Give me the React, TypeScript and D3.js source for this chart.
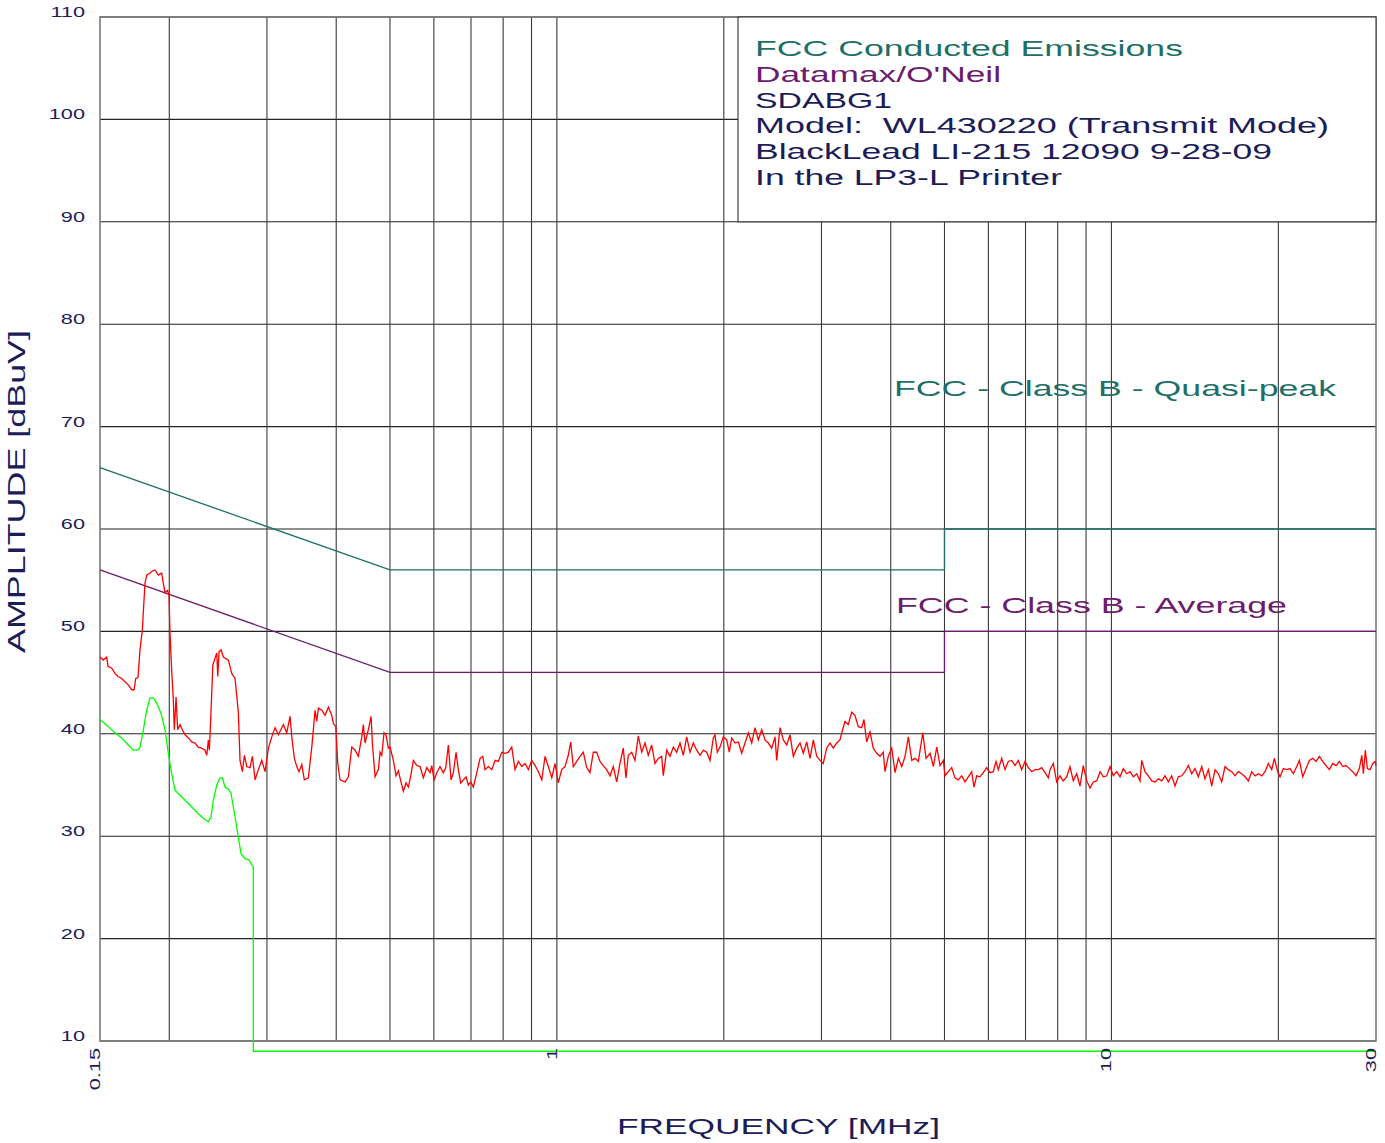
import * as d3 from 'd3';
import React from 'react';

// --- data ---
const gridFreqs = [0.2, 0.3, 0.4, 0.5, 0.6, 0.7, 0.8, 0.9, 1, 2, 3, 4, 5, 6, 7, 8, 9, 10, 20];
const ampTicks = [10, 20, 30, 40, 50, 60, 70, 80, 90, 100, 110];
const freqLabelValues = [0.15, 1, 10, 30];
const freqLabelText = ['0.15', '1', '10', '30'];

const infoLines = [
  'FCC Conducted Emissions',
  "Datamax/O'Neil",
  'SDABG1',
  'Model:  WL430220 (Transmit Mode)',
  'BlackLead LI-215 12090 9-28-09',
  'In the LP3-L Printer',
];

// FCC class B limits [MHz, dBuV]
const quasiPeakLimit: [number, number][] = [
  [0.15, 66], [0.5, 56], [5, 56], [5, 60], [30, 60],
];
const averageLimit: [number, number][] = [
  [0.15, 56], [0.5, 46], [5, 46], [5, 50], [30, 50],
];

// peak scan (red)
const peakScan: [number, number][] = [
  [0.150, 47.5], [0.152, 47.2], [0.1542, 47.5], [0.1551, 46.6], [0.1575, 46.4], [0.1596, 45.9],
  [0.1616, 45.6], [0.1641, 45.4], [0.1685, 44.8], [0.1711, 44.3], [0.1728, 44.3], [0.174, 45.4],
  [0.1756, 45.5], [0.1771, 48.2], [0.1788, 50.1], [0.1808, 54.7], [0.1821, 55.5], [0.1846, 55.7],
  [0.1864, 55.9], [0.1885, 56.0], [0.1911, 55.5], [0.1938, 55.7], [0.1951, 54.7], [0.1965, 53.8],
  [0.1987, 54.0], [0.1998, 53.4], [0.2006, 49.8], [0.202, 46.2], [0.2034, 43.3], [0.2042, 40.4],
  [0.2057, 43.6], [0.2071, 40.4], [0.2091, 40.9], [0.2111, 40.4], [0.2135, 39.9], [0.2165, 39.6],
  [0.2195, 39.2], [0.2226, 39.1], [0.2256, 38.7], [0.2288, 38.6], [0.232, 38.4], [0.2337, 37.9],
  [0.2352, 39.4], [0.2362, 38.4], [0.2379, 42.3], [0.2396, 46.7], [0.2436, 47.9], [0.2446, 45.6],
  [0.2459, 48.0], [0.248, 48.2], [0.2503, 47.5], [0.2556, 47.2], [0.2592, 45.9], [0.2628, 45.4],
  [0.2664, 42.1], [0.2683, 37.4], [0.2709, 36.3], [0.2732, 37.9], [0.2759, 36.8], [0.2797, 36.7],
  [0.2824, 37.8], [0.2856, 35.5], [0.2895, 36.5], [0.2936, 37.4], [0.2977, 36.3], [0.3018, 38.6],
  [0.3061, 39.7], [0.3103, 40.6], [0.3146, 39.9], [0.3212, 40.9], [0.3257, 40.1], [0.3302, 41.7],
  [0.3326, 39.7], [0.3362, 37.6], [0.3396, 36.8], [0.3428, 36.3], [0.3467, 37.0], [0.3504, 35.5],
  [0.3563, 35.7], [0.3614, 38.7], [0.3664, 42.3], [0.369, 41.2], [0.3714, 42.5], [0.3767, 42.3],
  [0.3819, 41.8], [0.3872, 42.6], [0.3927, 41.8], [0.3953, 41.0], [0.3993, 40.7], [0.4026, 37.1],
  [0.4064, 35.5], [0.415, 35.3], [0.4207, 35.8], [0.4267, 38.7], [0.4326, 38.4], [0.4385, 37.8],
  [0.4448, 39.7], [0.4477, 40.9], [0.4509, 39.1], [0.4571, 40.4], [0.4623, 41.7], [0.4648, 39.1],
  [0.47, 35.8], [0.4765, 36.5], [0.4799, 38.2], [0.4833, 37.9], [0.4879, 40.1], [0.4919, 39.9],
  [0.4967, 38.6], [0.5002, 38.7], [0.5071, 37.4], [0.5128, 35.9], [0.5177, 36.4], [0.5229, 35.4],
  [0.5286, 34.4], [0.5346, 35.2], [0.5397, 34.8], [0.5451, 35.9], [0.551, 37.4], [0.5589, 36.9],
  [0.5666, 36.8], [0.5744, 35.7], [0.5826, 36.7], [0.5906, 36.2], [0.5948, 36.9], [0.6005, 35.5],
  [0.6073, 36.2], [0.6156, 36.8], [0.6241, 36.2], [0.6304, 36.7], [0.6372, 38.9], [0.6444, 35.5],
  [0.6506, 36.2], [0.6579, 38.2], [0.6642, 36.5], [0.6709, 35.2], [0.6782, 35.5], [0.6858, 35.8],
  [0.6924, 35.0], [0.6993, 35.3], [0.7069, 34.8], [0.717, 36.2], [0.7269, 37.6], [0.7351, 37.8],
  [0.7421, 36.5], [0.7524, 36.8], [0.7631, 36.5], [0.7736, 37.4], [0.7843, 37.3], [0.7954, 38.2],
  [0.8064, 38.1], [0.8175, 38.2], [0.8291, 38.7], [0.8406, 36.5], [0.8522, 37.3], [0.8643, 36.8],
  [0.8762, 37.1], [0.8883, 36.5], [0.9009, 37.4], [0.9134, 36.9], [0.926, 36.3], [0.9392, 35.5],
  [0.9521, 37.8], [0.9652, 36.8], [0.979, 35.7], [0.9925, 37.1], [1.0058, 35.2], [1.0201, 36.5],
  [1.0342, 36.8], [1.0485, 37.9], [1.059, 39.2], [1.0705, 36.8], [1.0857, 37.3], [1.1007, 37.8],
  [1.1159, 38.2], [1.1317, 36.7], [1.1473, 36.2], [1.1632, 38.2], [1.1797, 38.2], [1.196, 37.3],
  [1.2125, 36.9], [1.2297, 36.5], [1.2467, 35.9], [1.2639, 36.8], [1.2819, 35.3], [1.2996, 37.1],
  [1.3175, 38.6], [1.3323, 35.7], [1.3451, 37.9], [1.3643, 38.2], [1.3831, 37.4], [1.4022, 39.8],
  [1.4221, 38.2], [1.4418, 39.1], [1.4616, 37.9], [1.4824, 38.9], [1.5029, 37.1], [1.5236, 37.6],
  [1.5452, 37.8], [1.5556, 35.9], [1.5777, 38.4], [1.5994, 37.8], [1.6215, 38.7], [1.6445, 38.2],
  [1.6673, 39.1], [1.6903, 37.9], [1.7143, 39.7], [1.738, 38.2], [1.762, 39.1], [1.787, 38.4],
  [1.8117, 37.9], [1.8367, 38.4], [1.8628, 38.2], [1.8885, 37.4], [1.9146, 39.6], [1.9281, 39.9],
  [1.9466, 38.2], [1.9686, 38.7], [1.9958, 39.7], [2.0242, 39.4], [2.0462, 38.2], [2.0667, 39.6],
  [2.0952, 39.1], [2.1241, 39.2], [2.1543, 38.1], [2.184, 39.1], [2.2142, 40.1], [2.2457, 39.1],
  [2.2767, 40.6], [2.3081, 39.4], [2.3409, 40.4], [2.3732, 39.4], [2.4059, 39.1], [2.4401, 38.6],
  [2.4738, 39.7], [2.4913, 37.4], [2.5257, 40.6], [2.5606, 39.4], [2.597, 38.9], [2.6328, 39.9],
  [2.6691, 37.8], [2.7071, 38.6], [2.7444, 39.1], [2.7823, 38.1], [2.8219, 39.2], [2.8608, 37.6],
  [2.9003, 39.4], [2.9415, 37.8], [2.9821, 37.4], [3.0225, 37.1], [3.0655, 38.6], [3.1078, 39.1],
  [3.1507, 38.6], [3.1955, 39.1], [3.2396, 39.4], [3.2761, 40.4], [3.3075, 41.2], [3.3532, 40.9],
  [3.4008, 42.1], [3.4478, 41.8], [3.4953, 40.7], [3.545, 40.6], [3.5791, 41.4], [3.6194, 39.2],
  [3.6694, 40.2], [3.72, 38.6], [3.7729, 38.1], [3.8249, 37.8], [3.8777, 38.2], [3.9052, 36.3],
  [3.9591, 37.8], [4.0166, 38.6], [4.0721, 36.2], [4.1282, 37.6], [4.187, 36.8], [4.2447, 37.8],
  [4.3033, 39.7], [4.3645, 37.4], [4.4247, 37.6], [4.4858, 37.3], [4.5685, 40.1], [4.6315, 37.6],
  [4.7091, 38.1], [4.7741, 36.8], [4.842, 38.7], [4.9088, 36.9], [4.9765, 37.4], [5.01, 35.9],
  [5.0795, 36.3], [5.1518, 36.7], [5.2228, 35.7], [5.2949, 35.5], [5.3702, 35.9], [5.4443, 35.3],
  [5.5194, 35.8], [5.5979, 36.3], [5.6516, 34.8], [5.7154, 35.9], [5.7942, 35.8], [5.8742, 36.2],
  [5.9577, 36.7], [6.0399, 36.2], [6.1234, 36.3], [6.1924, 37.3], [6.2518, 36.5], [6.3407, 37.6],
  [6.4282, 36.5], [6.5168, 37.3], [6.6095, 37.4], [6.7007, 36.9], [6.7931, 37.4], [6.8897, 36.5],
  [6.9855, 37.3], [7.0819, 36.7], [7.1826, 36.3], [7.2817, 36.5], [7.3821, 36.5], [7.4871, 36.7],
  [7.5904, 36.2], [7.6952, 35.7], [7.7483, 36.5], [7.8552, 37.1], [7.9668, 35.3], [8.0768, 35.9],
  [8.1882, 35.4], [8.3046, 35.8], [8.4193, 36.8], [8.5354, 35.4], [8.6568, 36.1], [8.7762, 34.9],
  [8.8973, 36.9], [9.026, 35.4], [9.1508, 34.7], [9.277, 35.3], [9.4089, 35.4], [9.5387, 36.3],
  [9.6703, 35.8], [9.8078, 35.9], [9.9431, 36.8], [10.079, 35.9], [10.223, 36.3], [10.364, 35.8],
  [10.507, 36.6], [10.656, 36.1], [10.803, 36.3], [10.952, 35.8], [11.108, 36.1], [11.261, 35.4],
  [11.341, 37.4], [11.497, 36.3], [11.656, 35.9], [11.822, 35.4], [11.985, 35.3], [12.15, 35.6],
  [12.323, 35.4], [12.493, 35.9], [12.665, 35.3], [12.845, 35.9], [13.023, 34.9], [13.202, 35.8],
  [13.39, 35.9], [13.575, 36.3], [13.762, 36.9], [13.958, 36.1], [14.15, 36.6], [14.346, 35.8],
  [14.55, 36.8], [14.75, 35.6], [14.954, 36.5], [15.166, 34.9], [15.376, 36.5], [15.588, 36.1],
  [15.809, 35.3], [16.028, 36.8], [16.249, 36.5], [16.48, 36.3], [16.707, 35.9], [16.938, 36.3],
  [17.178, 36.1], [17.415, 35.8], [17.656, 35.4], [17.907, 36.3], [18.154, 35.9], [18.404, 36.1],
  [18.666, 35.9], [18.924, 36.3], [19.185, 37.1], [19.458, 36.5], [19.669, 37.6], [19.95, 36.3],
  [20.142, 35.8], [20.42, 36.6], [20.71, 36.5], [20.996, 36.6], [21.285, 36.1], [21.588, 36.8],
  [21.822, 37.4], [22.133, 35.8], [22.438, 36.6], [22.748, 37.4], [23.071, 37.6], [23.389, 37.3],
  [23.712, 37.8], [24.049, 37.3], [24.381, 36.9], [24.718, 36.5], [25.069, 37.1], [25.415, 36.9],
  [25.765, 37.3], [26.132, 36.8], [26.492, 36.9], [26.858, 36.6], [27.24, 36.3], [27.616, 35.9],
  [27.997, 36.6], [28.277, 37.9], [28.466, 36.1], [28.703, 38.4], [28.942, 36.6], [29.269, 36.5],
  [29.599, 37.1], [29.883, 37.3], [30.0, 36.9],
];

// average scan (green)
const averageScan: [number, number][] = [
  [0.15, 41.4], [0.1553, 40.7], [0.1596, 40.1], [0.1641, 39.6], [0.1687, 38.9], [0.1722, 38.4],
  [0.1754, 38.4], [0.1771, 38.7], [0.1795, 40.3], [0.1821, 42.3], [0.1846, 43.5], [0.1872, 43.5],
  [0.1898, 43.0], [0.1932, 42.0], [0.1965, 40.4], [0.1992, 38.1], [0.202, 36.1], [0.2048, 34.5],
  [0.2091, 34.0], [0.2165, 33.2], [0.2256, 32.2], [0.232, 31.6], [0.2352, 31.4], [0.2379, 31.9],
  [0.2401, 33.5], [0.2436, 35.0], [0.2469, 35.7], [0.2493, 35.7], [0.2521, 34.8], [0.2556, 34.6],
  [0.2584, 34.2], [0.2628, 31.9], [0.2664, 29.9], [0.2694, 28.3], [0.2739, 27.8], [0.2785, 27.7],
  [0.2824, 27.1], [0.2835, 27.0], [0.2835, 9.0], [30, 9.0],
];

const TEAL = '#1d6f67';
const PURPLE = '#6c1c6c';
const NAVY = '#1c1c58';
const FONT = "'Liberation Sans', Arial, sans-serif";

const App: React.FC = () => {
  const width = 1385;
  const height = 1143;
  const plot = { left: 100, right: 1376, top: 17, bottom: 1041 };

  const x = d3.scaleLog().domain([0.15, 30]).range([plot.left, plot.right]);
  const y = d3.scaleLinear().domain([10, 110]).range([plot.bottom, plot.top]);

  const line = d3
    .line<[number, number]>()
    .x((d) => x(d[0]))
    .y((d) => y(d[1]));

  const boxLeft = 738;
  const stretch = 1.55;

  return (
    <svg
      width={width}
      height={height}
      style={{ position: 'absolute', left: 0, top: 0, background: '#fff' }}
      fontFamily={FONT}
    >
      {/* horizontal grid */}
      {ampTicks.map((v) => (
        <line
          key={'h' + v}
          x1={plot.left}
          x2={plot.right}
          y1={y(v)}
          y2={y(v)}
          stroke="#222"
          strokeWidth={1.1}
        />
      ))}
      {/* vertical grid */}
      {gridFreqs.map((f) => (
        <line
          key={'v' + f}
          x1={x(f)}
          x2={x(f)}
          y1={plot.top}
          y2={plot.bottom}
          stroke="#3a3a3a"
          strokeWidth={1.1}
        />
      ))}
      {/* plot frame */}
      <rect
        x={plot.left}
        y={plot.top}
        width={plot.right - plot.left}
        height={plot.bottom - plot.top}
        fill="none"
        stroke="#7a7a7a"
        strokeWidth={1.6}
      />

      {/* info box */}
      <rect
        x={boxLeft}
        y={plot.top}
        width={plot.right - boxLeft}
        height={y(90) - plot.top}
        fill="#fff"
        stroke="#333"
        strokeWidth={1.1}
      />
      {infoLines.map((t, i) => {
        const lengths = [428, 246, 137, 574, 517, 307];
        const colors = [TEAL, PURPLE, NAVY, NAVY, NAVY, NAVY];
        return (
          <text
            key={t}
            x={755}
            y={56 + i * 25.8}
            fontSize={22}
            fill={colors[i]}
            textLength={lengths[i]}
            lengthAdjust="spacingAndGlyphs"
            style={{ whiteSpace: 'pre' }}
          >
            {t}
          </text>
        );
      })}

      {/* limit lines */}
      <path d={line(quasiPeakLimit) || ''} fill="none" stroke={TEAL} strokeWidth={1.3} />
      <path d={line(averageLimit) || ''} fill="none" stroke={PURPLE} strokeWidth={1.3} />

      {/* scans */}
      <path d={line(averageScan) || ''} fill="none" stroke="#00ff00" strokeWidth={1.3} />
      <path d={line(peakScan) || ''} fill="none" stroke="#ff0000" strokeWidth={1.3} />

      {/* limit labels */}
      <text
        x={894}
        y={396}
        fontSize={22}
        fill={TEAL}
        textLength={442}
        lengthAdjust="spacingAndGlyphs"
      >
        FCC - Class B - Quasi-peak
      </text>
      <text
        x={896}
        y={613}
        fontSize={22}
        fill={PURPLE}
        textLength={391}
        lengthAdjust="spacingAndGlyphs"
      >
        FCC - Class B - Average
      </text>

      {/* y tick labels */}
      {ampTicks.map((v) => (
        <text
          key={'yl' + v}
          transform={`translate(85,${y(v)}) scale(${stretch},1)`}
          textAnchor="end"
          fontSize={14}
          fill={NAVY}
        >
          {v}
        </text>
      ))}

      {/* x tick labels */}
      {freqLabelValues.map((f, i) => (
        <text
          key={'xl' + f}
          transform={`translate(${x(f)},1048) rotate(-90) scale(${stretch},1)`}
          textAnchor="end"
          fontSize={14}
          fill={NAVY}
        >
          {freqLabelText[i]}
        </text>
      ))}

      {/* axis titles */}
      <text
        transform="translate(25,491.5) rotate(-90)"
        textAnchor="middle"
        fontSize={24}
        fill={NAVY}
        textLength={323}
        lengthAdjust="spacingAndGlyphs"
      >
        AMPLITUDE [dBuV]
      </text>
      <text
        x={778.5}
        y={1134}
        textAnchor="middle"
        fontSize={22}
        fill={NAVY}
        textLength={323}
        lengthAdjust="spacingAndGlyphs"
      >
        FREQUENCY [MHz]
      </text>
    </svg>
  );
};

export default App;
